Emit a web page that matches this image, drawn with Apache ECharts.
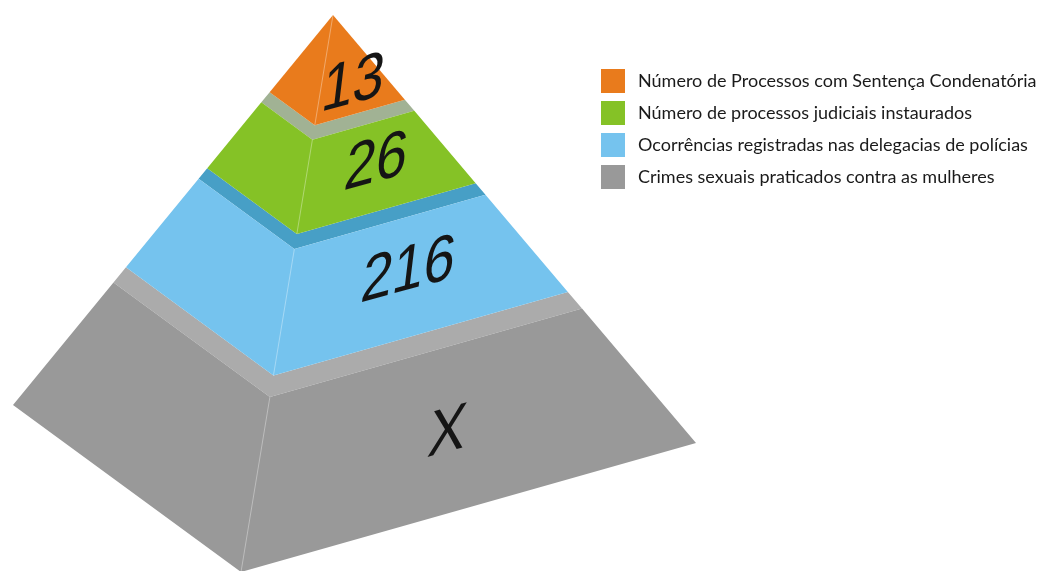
<!DOCTYPE html>
<html>
<head>
<meta charset="utf-8">
<script src="https://cdn.jsdelivr.net/npm/echarts@6/dist/echarts.min.js"></script>
<style>
  html, body { margin: 0; padding: 0; background: #ffffff; }
  #chart { width: 1049px; height: 571px; }
</style>
</head>
<body>
<div id="chart"></div>
<script>
// Tiers from the top of the pyramid to its base
const categories = [
  'Número de Processos com Sentença Condenatória',
  'Número de processos judiciais instaurados',
  'Ocorrências registradas nas delegacias de polícias',
  'Crimes sexuais praticados contra as mulheres'
];
const values = [13, 26, 216, 'X'];

// Styling per tier: side faces and the visible top ledge
const faceColors = ['#e97b1c', '#85c226', '#75c3ee', '#999999'];
const ledgeColors = [null, '#a1b294', '#479fc6', '#ababab'];

// Projected pyramid (page units): apex and the three visible base corners
const apex = [333, 15];
const baseLeft = [13, 405];
const baseFront = [241, 572];
const baseRight = [696, 443];
// Extent of each tier along the apex→base direction (0 = apex, 1 = base)
const tierSpan = [[0, 0.198], [0.224, 0.393], [0.42, 0.647], [0.686, 1]];
// Where each value label sits on the front face: [depth from apex, share across the face]
const labelAt = [[0.143, 0.51], [0.303, 0.513], [0.524, 0.517], [0.85, 0.497]];

function along(corner, t) {
  return [apex[0] + t * (corner[0] - apex[0]), apex[1] + t * (corner[1] - apex[1])];
}

function renderTier(params, api) {
  const i = api.value(0);
  const t0 = tierSpan[i][0];
  const t1 = tierSpan[i][1];
  const c = p => api.coord(p);
  const children = [];

  // top ledge left uncovered by the tier above
  if (i > 0) {
    const tp = tierSpan[i - 1][1];
    children.push({
      type: 'polygon',
      shape: { points: [along(baseLeft, t0), along(baseFront, t0), along(baseRight, t0),
                        along(baseRight, tp), along(baseFront, tp), along(baseLeft, tp)].map(c) },
      style: { fill: ledgeColors[i] }
    });
  }

  // left and front faces together
  children.push({
    type: 'polygon',
    shape: { points: [along(baseLeft, t0), along(baseFront, t0), along(baseRight, t0),
                      along(baseRight, t1), along(baseFront, t1), along(baseLeft, t1)].map(c) },
    style: { fill: faceColors[i] }
  });

  // faint highlight on the front edge
  const e0 = c(along(baseFront, t0));
  const e1 = c(along(baseFront, t1));
  children.push({
    type: 'line',
    shape: { x1: e0[0], y1: e0[1], x2: e1[0], y2: e1[1] },
    style: { stroke: 'rgba(255,255,255,0.35)', lineWidth: 1 }
  });

  // value label lying on the front face
  const tc = labelAt[i][0];
  const s = labelAt[i][1];
  const mid = [(1 - s) * baseFront[0] + s * baseRight[0], (1 - s) * baseFront[1] + s * baseRight[1]];
  const lp = c(along(mid, tc));
  children.push({
    type: 'text',
    x: lp[0],
    y: lp[1],
    scaleY: 1.18,
    skewX: -0.12,
    skewY: 0.265,
    style: {
      text: String(values[i]),
      fill: '#151515',
      fontFamily: 'Liberation Sans, Arial, sans-serif',
      fontSize: 56,
      align: 'center',
      verticalAlign: 'middle'
    }
  });

  return { type: 'group', children: children };
}

const drawOrder = [3, 2, 1, 0];
const series = drawOrder.map(i => ({
  type: 'custom',
  name: categories[i],
  coordinateSystem: 'cartesian2d',
  clip: false,
  silent: true,
  itemStyle: { color: faceColors[i] },
  data: [[i, 0]],
  renderItem: renderTier
}));

const chart = echarts.init(document.getElementById('chart'), null, { renderer: 'canvas' });
chart.setOption({
  animation: false,
  backgroundColor: '#ffffff',
  grid: { left: 0, right: 0, top: 0, bottom: 0 },
  xAxis: { type: 'value', min: 0, max: 1049, show: false },
  yAxis: { type: 'value', min: 0, max: 571, inverse: true, show: false },
  legend: {
    data: categories,
    orient: 'vertical',
    left: 596,
    top: 64,
    icon: 'rect',
    itemWidth: 24,
    itemHeight: 24,
    itemGap: 8,
    selectedMode: false,
    textStyle: {
      fontFamily: 'Lato, sans-serif',
      fontSize: 18,
      color: '#1a1a1a',
      padding: [0, 0, 0, 8]
    }
  },
  series: series
});
</script>
</body>
</html>
